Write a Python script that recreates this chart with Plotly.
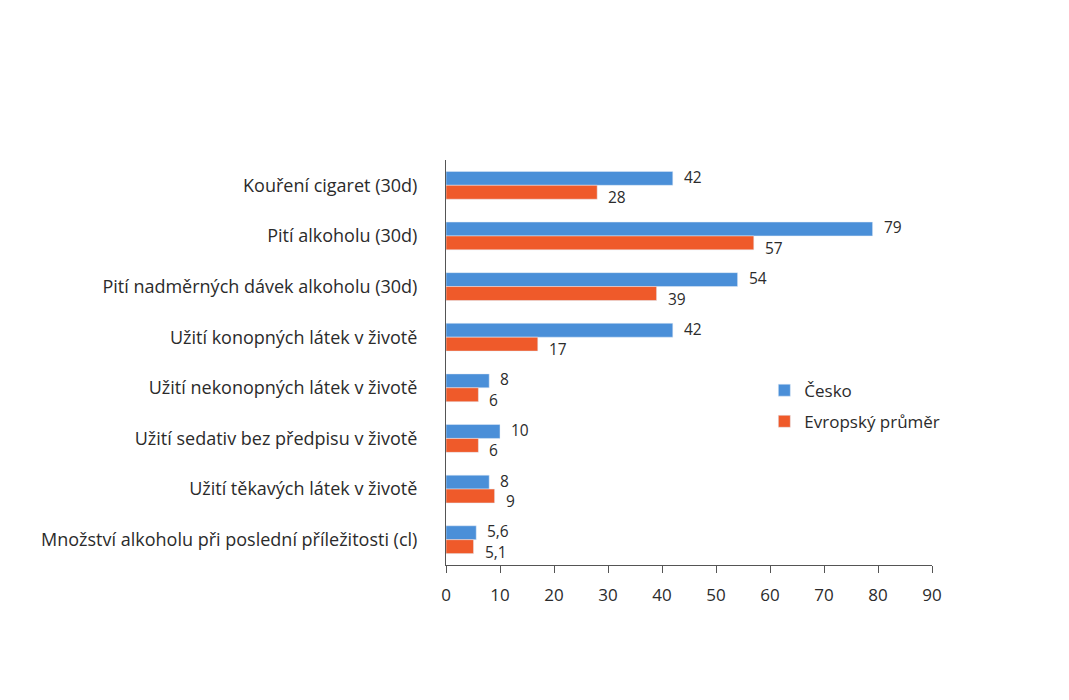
import plotly.graph_objects as go

categories = [
    "Kouření cigaret (30d)",
    "Pití alkoholu (30d)",
    "Pití nadměrných dávek alkoholu (30d)",
    "Užití konopných látek v životě",
    "Užití nekonopných látek v životě",
    "Užití sedativ bez předpisu v životě",
    "Užití těkavých látek v životě",
    "Množství alkoholu při poslední příležitosti (cl)",
]
cesko = [42, 79, 54, 42, 8, 10, 8, 5.6]
evropa = [28, 57, 39, 17, 6, 6, 9, 5.1]
x_ticks = [0, 10, 20, 30, 40, 50, 60, 70, 80, 90]

def fmt(v):
    return ("%g" % v).replace(".", ",")

FONT = "Open Sans"
BLUE = "#4a8fd8"
ORANGE = "#ef5a2a"
TXT = "#2b2b2b"
FS = 17

fig = go.Figure()
fig.add_trace(go.Bar(
    y=categories, x=cesko, orientation="h", name="Česko", legendgroup="a",
    marker_color=BLUE,
))
fig.add_trace(go.Bar(
    y=categories, x=evropa, orientation="h", name="Evropský průměr", legendgroup="b",
    marker_color=ORANGE,
))

annotations = []
for cat, v in zip(categories, cesko):
    annotations.append(dict(x=v, y=cat, xref="x", yref="y", text=fmt(v), showarrow=False,
                            xanchor="left", yanchor="middle", xshift=9, yshift=8.5,
                            font=dict(family=FONT, size=15.5, color=TXT)))
for cat, v in zip(categories, evropa):
    annotations.append(dict(x=v, y=cat, xref="x", yref="y", text=fmt(v), showarrow=False,
                            xanchor="left", yanchor="middle", xshift=9, yshift=-12,
                            font=dict(family=FONT, size=15.5, color=TXT)))

fig.update_layout(
    width=1069, height=700,
    margin=dict(l=446, r=137, t=160, b=135),
    paper_bgcolor="white", plot_bgcolor="white",
    barmode="group", bargap=0.45, bargroupgap=0,
    font=dict(family=FONT, size=FS, color=TXT),
    annotations=annotations,
    legend=dict(
        x=0.655, y=0.475, xanchor="left", yanchor="top",
        font=dict(family=FONT, size=FS, color=TXT),
        bgcolor="rgba(0,0,0,0)", itemwidth=30, tracegroupgap=6,
    ),
    xaxis=dict(
        range=[0, 90], tickvals=x_ticks, showgrid=False, zeroline=False,
        showline=True, linecolor="#555", linewidth=1,
        ticks="outside", ticklen=7, tickcolor="#555",
        tickfont=dict(family=FONT, size=FS, color=TXT),
        ticklabelstandoff=8,
    ),
    yaxis=dict(
        autorange="reversed", showgrid=False, zeroline=False,
        showline=True, linecolor="#555", linewidth=1,
        ticks="", tickfont=dict(family=FONT, size=18, color=TXT),
        ticklabelstandoff=24,
    ),
)

fig.write_html("out.html")
